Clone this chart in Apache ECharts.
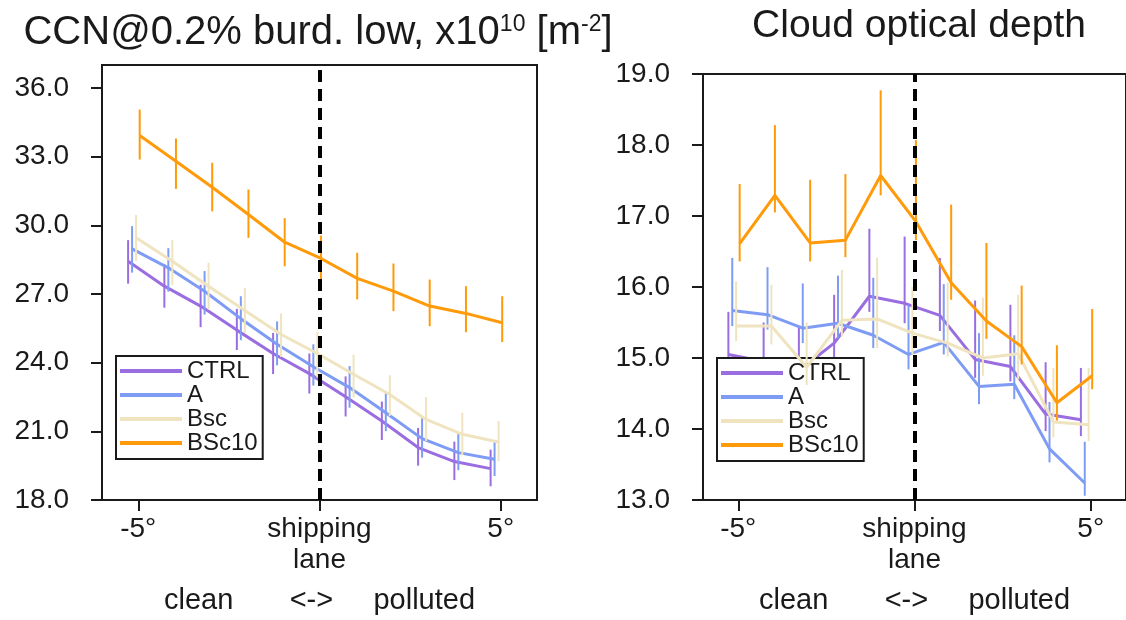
<!DOCTYPE html>
<html>
<head>
<meta charset="utf-8">
<script src="https://cdn.jsdelivr.net/npm/echarts@6/dist/echarts.min.js"></script>
<style>
  html, body { margin: 0; padding: 0; background: #fff; }
  #chart { width: 1126px; height: 620px; }
</style>
</head>
<body>
<div id="chart"></div>
<script>
// Distance from the shipping lane, degrees (negative = clean side)
const latitudes = [-5, -4, -3, -2, -1, 0, 1, 2, 3, 4, 5];
const xTickValues = [-5, 0, 5];
const xTickLabels = ['-5°', 'shipping\nlane', '5°'];
const xAxisName = 'clean       <->     polluted';

const seriesNames = ['CTRL', 'A', 'Bsc', 'BSc10'];
const seriesColors = ['#9a6ee0', '#7f9cf4', '#efe4bf', '#ff9a0a'];
// small horizontal dodge so the error bars of the experiments do not overlap
const dodge = [-0.28, -0.17, -0.06, 0.04];

// CCN@0.2% burden, low clouds, x10^10 m^-2
const ccnTicks = [18, 21, 24, 27, 30, 33, 36];
const ccnCTRL      = [28.43, 27.34, 26.47, 25.42, 24.40, 23.52, 22.51, 21.45, 20.29, 19.68, 19.37];
const ccnCTRLLow   = [27.45, 26.40, 25.55, 24.55, 23.50, 22.65, 21.65, 20.62, 19.50, 18.87, 18.60];
const ccnCTRLHigh  = [29.35, 28.30, 27.40, 26.35, 25.30, 24.40, 23.40, 22.30, 21.15, 20.55, 20.20];
const ccnA         = [28.97, 28.14, 27.12, 25.92, 24.80, 23.82, 22.91, 21.81, 20.68, 20.07, 19.78];
const ccnALow      = [27.93, 27.10, 26.10, 24.98, 23.88, 23.00, 22.03, 21.01, 19.85, 19.30, 19.05];
const ccnAHigh     = [29.96, 29.00, 28.00, 26.90, 25.80, 24.80, 23.85, 22.75, 21.60, 20.95, 20.60];
const ccnBsc       = [29.45, 28.43, 27.34, 26.28, 25.23, 24.40, 23.49, 22.61, 21.52, 20.87, 20.53];
const ccnBscLow    = [28.45, 27.40, 26.32, 25.30, 24.25, 23.35, 22.47, 21.67, 20.58, 19.95, 19.70];
const ccnBscHigh   = [30.45, 29.35, 28.36, 27.27, 26.15, 25.35, 24.35, 23.45, 22.50, 21.81, 21.45];
const ccnBSc10     = [33.92, 32.80, 31.66, 30.47, 29.26, 28.55, 27.68, 27.12, 26.47, 26.15, 25.74];
const ccnBSc10Low  = [32.87, 31.59, 30.61, 29.45, 28.21, 27.55, 26.76, 26.25, 25.59, 25.33, 24.90];
const ccnBSc10High = [35.05, 33.79, 32.73, 31.56, 30.31, 29.55, 28.80, 28.33, 27.63, 27.34, 26.90];

// Cloud optical depth
const codTicks = [13, 14, 15, 16, 17, 18, 19];
const codCTRL      = [15.05, 14.95, 14.82, 15.21, 15.87, 15.77, 15.60, 14.98, 14.88, 14.21, 14.13];
const codCTRLLow   = [14.80, 14.70, 14.57, 14.95, 15.65, 15.49, 15.38, 14.72, 14.67, 13.97, 13.90];
const codCTRLHigh  = [15.65, 15.50, 15.45, 15.89, 16.82, 16.71, 16.41, 15.81, 15.75, 14.94, 14.86];
const codA         = [15.67, 15.61, 15.42, 15.49, 15.32, 15.05, 15.22, 14.60, 14.63, 13.72, 13.24];
const codALow      = [15.45, 15.40, 15.21, 15.28, 15.14, 14.84, 15.05, 14.35, 14.42, 13.53, 13.06];
const codAHigh     = [16.41, 16.28, 16.05, 16.16, 16.13, 15.75, 16.04, 15.35, 15.32, 14.38, 13.82];
const codBsc       = [15.45, 15.45, 14.87, 15.53, 15.55, 15.35, 15.21, 15.00, 15.06, 14.10, 14.06];
const codBscLow    = [15.24, 15.19, 14.62, 15.30, 15.14, 15.05, 15.02, 14.75, 14.70, 13.88, 13.83];
const codBscHigh   = [16.08, 16.03, 15.50, 16.24, 16.41, 16.00, 16.06, 15.85, 15.89, 14.86, 14.86];
const codBSc10     = [16.61, 17.29, 16.62, 16.66, 17.57, 16.92, 16.06, 15.52, 15.16, 14.37, 14.75];
const codBSc10Low  = [16.36, 17.05, 16.36, 16.42, 17.29, 16.66, 15.82, 15.27, 14.91, 14.12, 14.56];
const codBSc10High = [17.45, 18.28, 17.51, 17.59, 18.77, 18.07, 17.16, 16.62, 16.02, 15.18, 15.69];

const FONT = '"Liberation Sans", Arial, Helvetica, sans-serif';
const INK = '#1a1a1a';

const panels = [
  {
    grid: { left: 102, top: 65, width: 435, height: 436 },
    yMin: 18, yMax: 37, yTicks: ccnTicks,
    values: [
      [ccnCTRL, ccnCTRLLow, ccnCTRLHigh],
      [ccnA, ccnALow, ccnAHigh],
      [ccnBsc, ccnBscLow, ccnBscHigh],
      [ccnBSc10, ccnBSc10Low, ccnBSc10High]
    ],
    legendPos: { left: 116, top: 356 },
    title: '{m|CCN@0.2% burd. low, x10}{s|10}{m| [m}{s|-2}{m|]}',
    titleX: 318, titleY: 33, titleSize: 40
  },
  {
    grid: { left: 703, top: 74, width: 430, height: 427 },
    yMin: 13, yMax: 19, yTicks: codTicks,
    values: [
      [codCTRL, codCTRLLow, codCTRLHigh],
      [codA, codALow, codAHigh],
      [codBsc, codBscLow, codBscHigh],
      [codBSc10, codBSc10Low, codBSc10High]
    ],
    legendPos: { left: 717, top: 358 },
    title: '{m|Cloud optical depth}',
    titleX: 919, titleY: 26, titleSize: 39
  }
];

function errorBar(color) {
  return function (params, api) {
    const x = api.value(0);
    const p1 = api.coord([x, api.value(1)]);
    const p2 = api.coord([x, api.value(2)]);
    return {
      type: 'line',
      shape: { x1: p1[0], y1: p1[1], x2: p2[0], y2: p2[1] },
      style: { stroke: color, lineWidth: 2 }
    };
  };
}

const grids = [], xAxes = [], yAxes = [], series = [], legends = [], graphics = [];

panels.forEach((p, pi) => {
  grids.push(Object.assign({ show: true, borderColor: INK, borderWidth: 2, backgroundColor: 'transparent' }, p.grid));

  xAxes.push({
    type: 'value', gridIndex: pi, min: -6, max: 6,
    splitLine: { show: false },
    axisLine: { show: true, onZero: false, lineStyle: { color: INK, width: 2 } },
    axisTick: { show: true, inside: false, length: 11, customValues: xTickValues, lineStyle: { color: INK, width: 2 } },
    axisLabel: {
      customValues: xTickValues,
      formatter: v => { const i = xTickValues.indexOf(v); return i >= 0 ? xTickLabels[i] : ''; },
      fontFamily: FONT, fontSize: 28, lineHeight: 31, color: INK, margin: 14
    },
    name: xAxisName, nameLocation: 'middle', nameGap: 86,
    nameTextStyle: { fontFamily: FONT, fontSize: 29, color: INK }
  });

  yAxes.push({
    type: 'value', gridIndex: pi, min: p.yMin, max: p.yMax,
    splitLine: { show: false },
    axisLine: { show: true, onZero: false, lineStyle: { color: INK, width: 2 } },
    axisTick: { show: true, inside: false, length: 11, customValues: p.yTicks, lineStyle: { color: INK, width: 2 } },
    axisLabel: {
      customValues: p.yTicks,
      formatter: v => v.toFixed(1),
      fontFamily: FONT, fontSize: 28, color: INK, margin: 33
    }
  });

  seriesNames.forEach((name, si) => {
    const [mid, low, high] = p.values[si];
    const line = {
      name, type: 'line', xAxisIndex: pi, yAxisIndex: pi,
      data: latitudes.map((x, k) => [x + dodge[si], mid[k]]),
      symbol: 'none', smooth: false, silent: true,
      lineStyle: { color: seriesColors[si], width: 3 },
      itemStyle: { color: seriesColors[si] },
      z: 2 + si
    };
    if (si === seriesNames.length - 1) {
      line.markLine = {
        silent: true, symbol: ['none', 'none'], label: { show: false },
        lineStyle: { color: '#000', type: [12, 7], width: 4 },
        data: [{ xAxis: 0 }],
        z: 20
      };
    }
    series.push(line);
    series.push({
      name, type: 'custom', xAxisIndex: pi, yAxisIndex: pi,
      coordinateSystem: 'cartesian2d', silent: true,
      data: latitudes.map((x, k) => [x + dodge[si], low[k], high[k]]),
      encode: { x: 0, y: [1, 2] },
      renderItem: errorBar(seriesColors[si]),
      z: 2 + si
    });
  });

  legends.push({
    orient: 'vertical', left: p.legendPos.left, top: p.legendPos.top,
    data: seriesNames.map((n, si) => ({ name: n, icon: 'rect', itemStyle: { color: seriesColors[si] } })),
    selectedMode: false,
    itemWidth: 62, itemHeight: 4, itemGap: 0,
    padding: [3, 5, 4, 4],
    backgroundColor: '#fff', borderColor: INK, borderWidth: 2,
    textStyle: { fontFamily: FONT, fontSize: 24, lineHeight: 20, color: INK }
  });

  graphics.push({
    type: 'text', x: p.titleX, y: p.titleY,
    style: {
      text: p.title, textAlign: 'center', textVerticalAlign: 'middle',
      fill: INK, fontFamily: FONT,
      rich: {
        m: { fontSize: p.titleSize, fontFamily: FONT, fill: INK },
        s: { fontSize: 23, fontFamily: FONT, fill: INK, verticalAlign: 'top' }
      }
    }
  });
});

const chart = echarts.init(document.getElementById('chart'), null, { renderer: 'canvas' });
chart.setOption({
  animation: false,
  backgroundColor: '#fff',
  grid: grids, xAxis: xAxes, yAxis: yAxes,
  legend: legends, series, graphic: graphics
});
</script>
</body>
</html>
